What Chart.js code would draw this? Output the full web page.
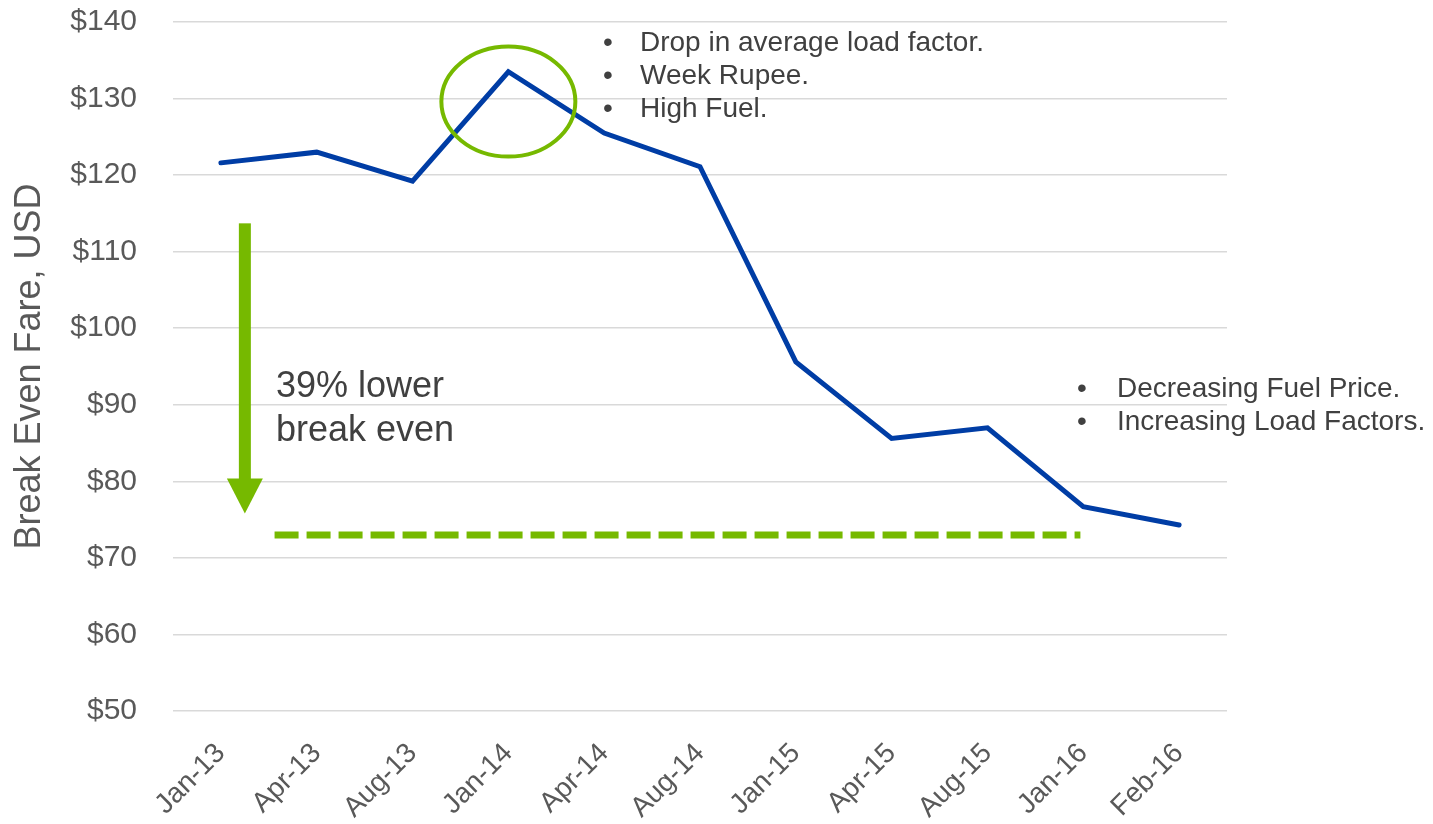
<!DOCTYPE html>
<html>
<head>
<meta charset="utf-8">
<script src="https://cdn.jsdelivr.net/npm/chart.js@4/dist/chart.umd.min.js"></script>
<style>
  html, body { margin: 0; padding: 0; background: #fff; }
  #wrap { width: 1433px; height: 824px; position: relative; }
</style>
</head>
<body>
<div id="wrap"><canvas id="c"></canvas></div>
<script>
const categories = ['Jan-13','Apr-13','Aug-13','Jan-14','Apr-14','Aug-14','Jan-15','Apr-15','Aug-15','Jan-16','Feb-16'];
const breakEvenFare = [121.6, 123.0, 119.2, 133.5, 125.5, 121.1, 95.6, 85.6, 87.0, 76.7, 74.3];
const yTicks = [50, 60, 70, 80, 90, 100, 110, 120, 130, 140];
const targetLevel = [73];
const targetSpan = [0.56, 8.97];          // category positions of dashed line ends
const arrowSpan = [113.7, 75.8];          // arrow top / tip values
const arrowCat = [0.25];
const highlight = { cat: 3, value: 129.6 };
const bulletsTop = ['Drop in average load factor.', 'Week Rupee.', 'High Fuel.'];
const bulletsRight = ['Decreasing Fuel Price.', 'Increasing Load Factors.'];
const noteLines = ['39% lower', 'break even'];

const FONT = "'Liberation Sans', Arial, Helvetica, sans-serif";
const BLUE = '#003DA5';
const GREEN = '#76B900';

const annotations = {
  id: 'annotations',
  afterDatasetsDraw(chart) {
    const ctx = chart.ctx;
    const x = chart.scales.x, y = chart.scales.y;
    ctx.save();
    // dashed target line
    ctx.strokeStyle = GREEN;
    ctx.lineWidth = 7;
    ctx.setLineDash([24, 8]);
    ctx.beginPath();
    const yl = y.getPixelForValue(targetLevel[0]);
    ctx.moveTo(x.getPixelForValue(targetSpan[0]), yl);
    ctx.lineTo(x.getPixelForValue(targetSpan[1]), yl);
    ctx.stroke();
    ctx.setLineDash([]);

    // arrow
    const ax = x.getPixelForValue(arrowCat[0]);
    const ay0 = y.getPixelForValue(arrowSpan[0]);
    const ay1 = y.getPixelForValue(arrowSpan[1]);
    const headH = 35, headW = 36, shaftW = 12;
    ctx.fillStyle = GREEN;
    ctx.fillRect(ax - shaftW / 2, ay0, shaftW, (ay1 - headH) - ay0 + 1);
    ctx.beginPath();
    ctx.moveTo(ax - headW / 2, ay1 - headH);
    ctx.lineTo(ax + headW / 2, ay1 - headH);
    ctx.lineTo(ax, ay1);
    ctx.closePath();
    ctx.fill();

    // ellipse around peak
    ctx.strokeStyle = GREEN;
    ctx.lineWidth = 4;
    ctx.beginPath();
    ctx.ellipse(x.getPixelForValue(highlight.cat), y.getPixelForValue(highlight.value), 67, 55, 0, 0, Math.PI * 2);
    ctx.stroke();

    // texts
    ctx.fillStyle = '#404040';
    ctx.textAlign = 'left';
    ctx.textBaseline = 'alphabetic';
    ctx.font = '36px ' + FONT;
    ctx.fillText(noteLines[0], 276, 397);
    ctx.fillText(noteLines[1], 276, 441);

    ctx.font = '28px ' + FONT;
    bulletsTop.forEach((t, i) => {
      const by = 51 + i * 33;
      ctx.fillText('\u2022', 603, by);
      ctx.fillText(t, 640, by);
    });
    bulletsRight.forEach((t, i) => {
      const by = 397 + i * 33;
      ctx.fillText('\u2022', 1077, by);
      ctx.fillText(t, 1117, by);
    });
    ctx.restore();
  }
};

new Chart(document.getElementById('c'), {
  type: 'line',
  data: {
    labels: categories,
    datasets: [{
      data: breakEvenFare,
      borderColor: BLUE,
      borderWidth: 5,
      pointRadius: 0,
      tension: 0,
      fill: false,
      borderJoinStyle: 'miter',
      borderCapStyle: 'round'
    }]
  },
  options: {
    responsive: true,
    maintainAspectRatio: false,
    devicePixelRatio: 1,
    animation: false,
    layout: { padding: { top: 22, right: 206, bottom: 0, left: 0 } },
    plugins: { legend: { display: false }, tooltip: { enabled: false } },
    scales: {
      x: {
        offset: true,
        grid: { display: false, drawTicks: false },
        border: { display: false },
        ticks: {
          color: '#595959',
          font: { family: FONT, size: 28 },
          minRotation: 45, maxRotation: 45,
          padding: 26,
          autoSkip: false
        },
        afterFit(scale) { scale.height = 113; scale.paddingLeft = 0; scale.paddingRight = 0; }
      },
      y: {
        min: 50, max: 140,
        afterBuildTicks(scale) { scale.ticks = yTicks.map(v => ({ value: v })); },
        grid: { color: '#D9D9D9', lineWidth: 1.5, drawTicks: false },
        border: { display: false },
        ticks: {
          color: '#595959',
          font: { family: FONT, size: 30 },
          padding: 36,
          callback: v => '$' + v
        },
        title: {
          display: true,
          text: 'Break Even Fare, USD',
          color: '#595959',
          font: { family: FONT, size: 36 },
          padding: { top: 8, bottom: 0 }
        },
        afterFit(scale) { scale.width = 173; scale.paddingTop = 0; scale.paddingBottom = 0; }
      }
    }
  },
  plugins: [annotations]
});
</script>
</body>
</html>
